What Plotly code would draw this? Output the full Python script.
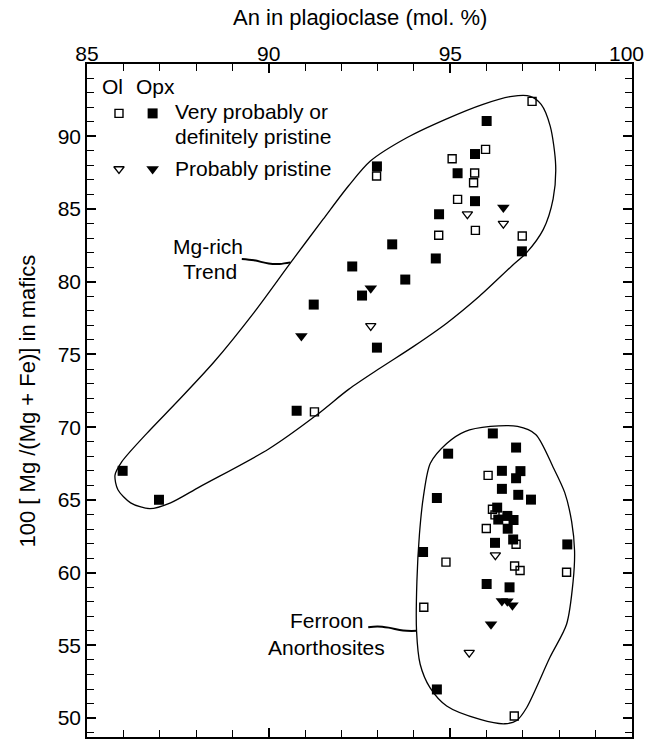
import plotly.graph_objects as go

# ---------------- data ----------------
# Ol, very probably or definitely pristine (open squares)
ol_vp_an = [97.25, 95.05, 95.97, 92.97, 95.67, 95.64, 95.20, 94.68, 95.69, 96.98, 91.26,
            96.04, 96.16, 96.23, 95.99, 96.81, 94.88, 96.77, 96.92, 98.20, 94.27, 96.76]
ol_vp_mg = [92.40, 88.46, 89.10, 87.27, 87.48, 86.81, 85.66, 83.20, 83.53, 83.14, 71.05,
            66.69, 64.36, 63.97, 63.03, 61.95, 60.72, 60.46, 60.15, 60.03, 57.62, 50.14]

# Opx, very probably or definitely pristine (filled squares)
opx_vp_an = [96.00, 95.68, 92.98, 95.20, 95.68, 94.69, 93.40, 94.60, 96.97, 92.30, 93.76,
             91.24, 92.57, 92.98, 90.77, 85.98, 86.98,
             96.17, 96.81, 94.94, 96.42, 96.93, 96.81, 96.42, 94.63, 96.87, 97.22, 96.29,
             96.57, 96.32, 96.74, 96.58, 96.23, 96.73, 98.22, 94.25, 96.00, 96.63, 94.63]
opx_vp_mg = [91.05, 88.78, 87.93, 87.46, 85.54, 84.64, 82.57, 81.60, 82.09, 81.05, 80.15,
             78.43, 79.05, 75.47, 71.13, 67.00, 65.01,
             69.57, 68.60, 68.18, 67.00, 66.98, 66.49, 65.76, 65.13, 65.35, 65.02, 64.47,
             63.90, 63.65, 63.62, 63.02, 62.05, 62.28, 61.94, 61.42, 59.22, 58.99, 51.97]

# Ol, probably pristine (open triangles)
ol_p_an = [95.47, 96.46, 92.81, 96.24, 95.52]
ol_p_mg = [84.65, 84.00, 76.97, 61.20, 54.50]

# Opx, probably pristine (filled triangles)
opx_p_an = [96.46, 92.81, 90.90, 96.42, 96.57, 96.71, 96.12]
opx_p_mg = [85.10, 79.56, 76.27, 58.05, 58.03, 57.75, 56.46]

# Field outlines (hand-drawn envelopes)
mg_env_an = [85.77, 85.95, 86.64, 87.50, 88.50, 89.60, 90.60, 91.50, 92.20, 92.80, 93.80,
             94.90, 95.90, 96.70, 97.20, 97.50, 97.75, 97.90, 97.83, 97.56, 97.10, 96.70,
             95.80, 94.90, 93.98, 93.06, 92.20, 91.30, 90.00, 88.10, 87.30, 86.73, 86.20,
             85.85, 85.77]
mg_env_mg = [66.70, 67.60, 69.56, 71.80, 74.50, 77.90, 81.30, 84.30, 86.60, 88.30, 89.90,
             91.20, 92.20, 92.75, 92.75, 92.20, 90.70, 88.00, 85.70, 83.60, 82.00, 81.10,
             79.00, 77.15, 75.54, 74.05, 72.60, 70.80, 68.50, 65.90, 64.80, 64.40, 64.80,
             65.70, 66.70]

fe_env_an = [94.15, 94.26, 94.45, 94.90, 95.40, 96.10, 96.85, 97.35, 97.84, 98.15, 98.34,
             98.42, 98.38, 98.20, 97.74, 97.10, 96.83, 96.50, 95.82, 94.90, 94.44, 94.17,
             94.07, 94.08, 94.15]
fe_env_mg = [62.64, 65.24, 67.52, 68.88, 69.70, 70.05, 70.05, 69.50, 67.20, 65.50, 63.50,
             61.50, 59.40, 56.45, 54.16, 50.71, 49.84, 49.61, 49.91, 50.83, 52.09, 53.70,
             56.00, 59.40, 62.64]

# Label leader lines
mg_lead_an = [89.26, 89.60, 90.00, 90.30, 90.60]
mg_lead_mg = [81.56, 81.47, 81.25, 81.22, 81.33]
fe_lead_an = [92.74, 93.00, 93.30, 93.70, 94.07]
fe_lead_mg = [56.25, 56.30, 56.22, 56.02, 56.00]

x_ticks = [85, 90, 95, 100]
x_ticktext = ["85", "90", "95", ""]   # "100" is drawn flush with the right edge below
y_ticks = [50, 55, 60, 65, 70, 75, 80, 85, 90]

# ---------------- figure ----------------
FONT = "Liberation Sans, Arial, Helvetica, sans-serif"
fig = go.Figure()

line_style = dict(color="black", width=1.3, shape="spline", smoothing=0.8)
for xs, ys in [(mg_env_an, mg_env_mg), (fe_env_an, fe_env_mg)]:
    fig.add_trace(go.Scatter(x=xs, y=ys, mode="lines", line=line_style,
                             hoverinfo="skip", showlegend=False))
for xs, ys in [(mg_lead_an, mg_lead_mg), (fe_lead_an, fe_lead_mg)]:
    fig.add_trace(go.Scatter(x=xs, y=ys, mode="lines",
                             line=dict(color="black", width=2, shape="spline"),
                             hoverinfo="skip", showlegend=False))

open_sq = dict(symbol="square-open", size=8, color="black", line=dict(width=1.4, color="black"))
fill_sq = dict(symbol="square", size=10, color="black", line=dict(width=0))
open_tri = dict(symbol="triangle-down-open", size=9, color="black", line=dict(width=1.3, color="black"))
fill_tri = dict(symbol="triangle-down", size=11, color="black", line=dict(width=0))

fig.add_trace(go.Scatter(x=ol_vp_an, y=ol_vp_mg, mode="markers", marker=open_sq, showlegend=False))
fig.add_trace(go.Scatter(x=opx_vp_an, y=opx_vp_mg, mode="markers", marker=fill_sq, showlegend=False))
fig.add_trace(go.Scatter(x=ol_p_an, y=ol_p_mg, mode="markers", marker=open_tri, showlegend=False))
fig.add_trace(go.Scatter(x=opx_p_an, y=opx_p_mg, mode="markers", marker=fill_tri, showlegend=False))

# Legend keys on an overlay axis spanning the plot area (0..1)
leg_x = [0.0587, 0.1204, 0.0587, 0.1204]
leg_y = [0.9266, 0.9266, 0.844, 0.844]
leg_markers = [open_sq, fill_sq, open_tri, fill_tri]
for lx, ly, mk in zip(leg_x, leg_y, leg_markers):
    fig.add_trace(go.Scatter(x=[lx], y=[ly], mode="markers", marker=mk, xaxis="x2", yaxis="y2",
                             showlegend=False, hoverinfo="skip"))

axis_common = dict(
    showline=True, linecolor="black", linewidth=1.6, mirror="allticks",
    ticks="inside", ticklen=9, tickwidth=1.8, tickcolor="black",
    showgrid=False, zeroline=False, ticklabeloverflow="allow", automargin=False,
    tickfont=dict(family=FONT, size=21, color="black"),
    minor=dict(dtick=1, ticks="inside", ticklen=7, tickwidth=1.1, tickcolor="black", showgrid=False),
)

fig.update_layout(
    width=647, height=741,
    margin=dict(l=87, r=15, t=64, b=4, autoexpand=False),
    paper_bgcolor="white", plot_bgcolor="white",
    font=dict(family=FONT, size=21, color="black"),
    showlegend=False,
    xaxis=dict(range=[84.999, 100.001], side="top", tickmode="array", tickvals=x_ticks,
               ticktext=x_ticktext, ticklabelstandoff=-7, **axis_common),
    yaxis=dict(range=[48.7, 94.97], tickmode="array", tickvals=y_ticks, **axis_common),
    xaxis2=dict(range=[0, 1], overlaying="x", visible=False),
    yaxis2=dict(range=[0, 1], overlaying="y", visible=False),
)

ann = []
def txt(x, y, s, xref="x", yref="y", xanchor="center", size=21, angle=0):
    ann.append(dict(x=x, y=y, xref=xref, yref=yref, text=s, showarrow=False,
                    xanchor=xanchor, yanchor="middle", textangle=angle,
                    font=dict(family=FONT, size=size, color="black")))

txt(0.5, 1.0684, "An in plagioclase (mol. %)", "paper", "paper", size=22)
txt(-0.1083, 0.5, "100 [ Mg /(Mg + Fe)] in mafics", "paper", "paper", size=22, angle=-90)
txt(1.0257, 1.0149, "100", "paper", "paper", xanchor="right")
txt(0.0477, 0.9666, "Ol", "paper", "paper")
txt(0.1262, 0.9666, "Opx", "paper", "paper")
txt(0.1583, 0.9287, "Very probably or", "paper", "paper", xanchor="left")
txt(0.1583, 0.8921, "definitely pristine", "paper", "paper", xanchor="left")
txt(0.1583, 0.8444, "Probably pristine", "paper", "paper", xanchor="left")
txt(88.34, 82.43, "Mg-rich")
txt(88.39, 80.71, "Trend")
txt(91.60, 56.69, "Ferroon")
txt(91.60, 54.85, "Anorthosites")
fig.update_layout(annotations=ann)

fig.write_html("out.html", config={"displayModeBar": False},
               post_script="document.body.style.margin='0';")
